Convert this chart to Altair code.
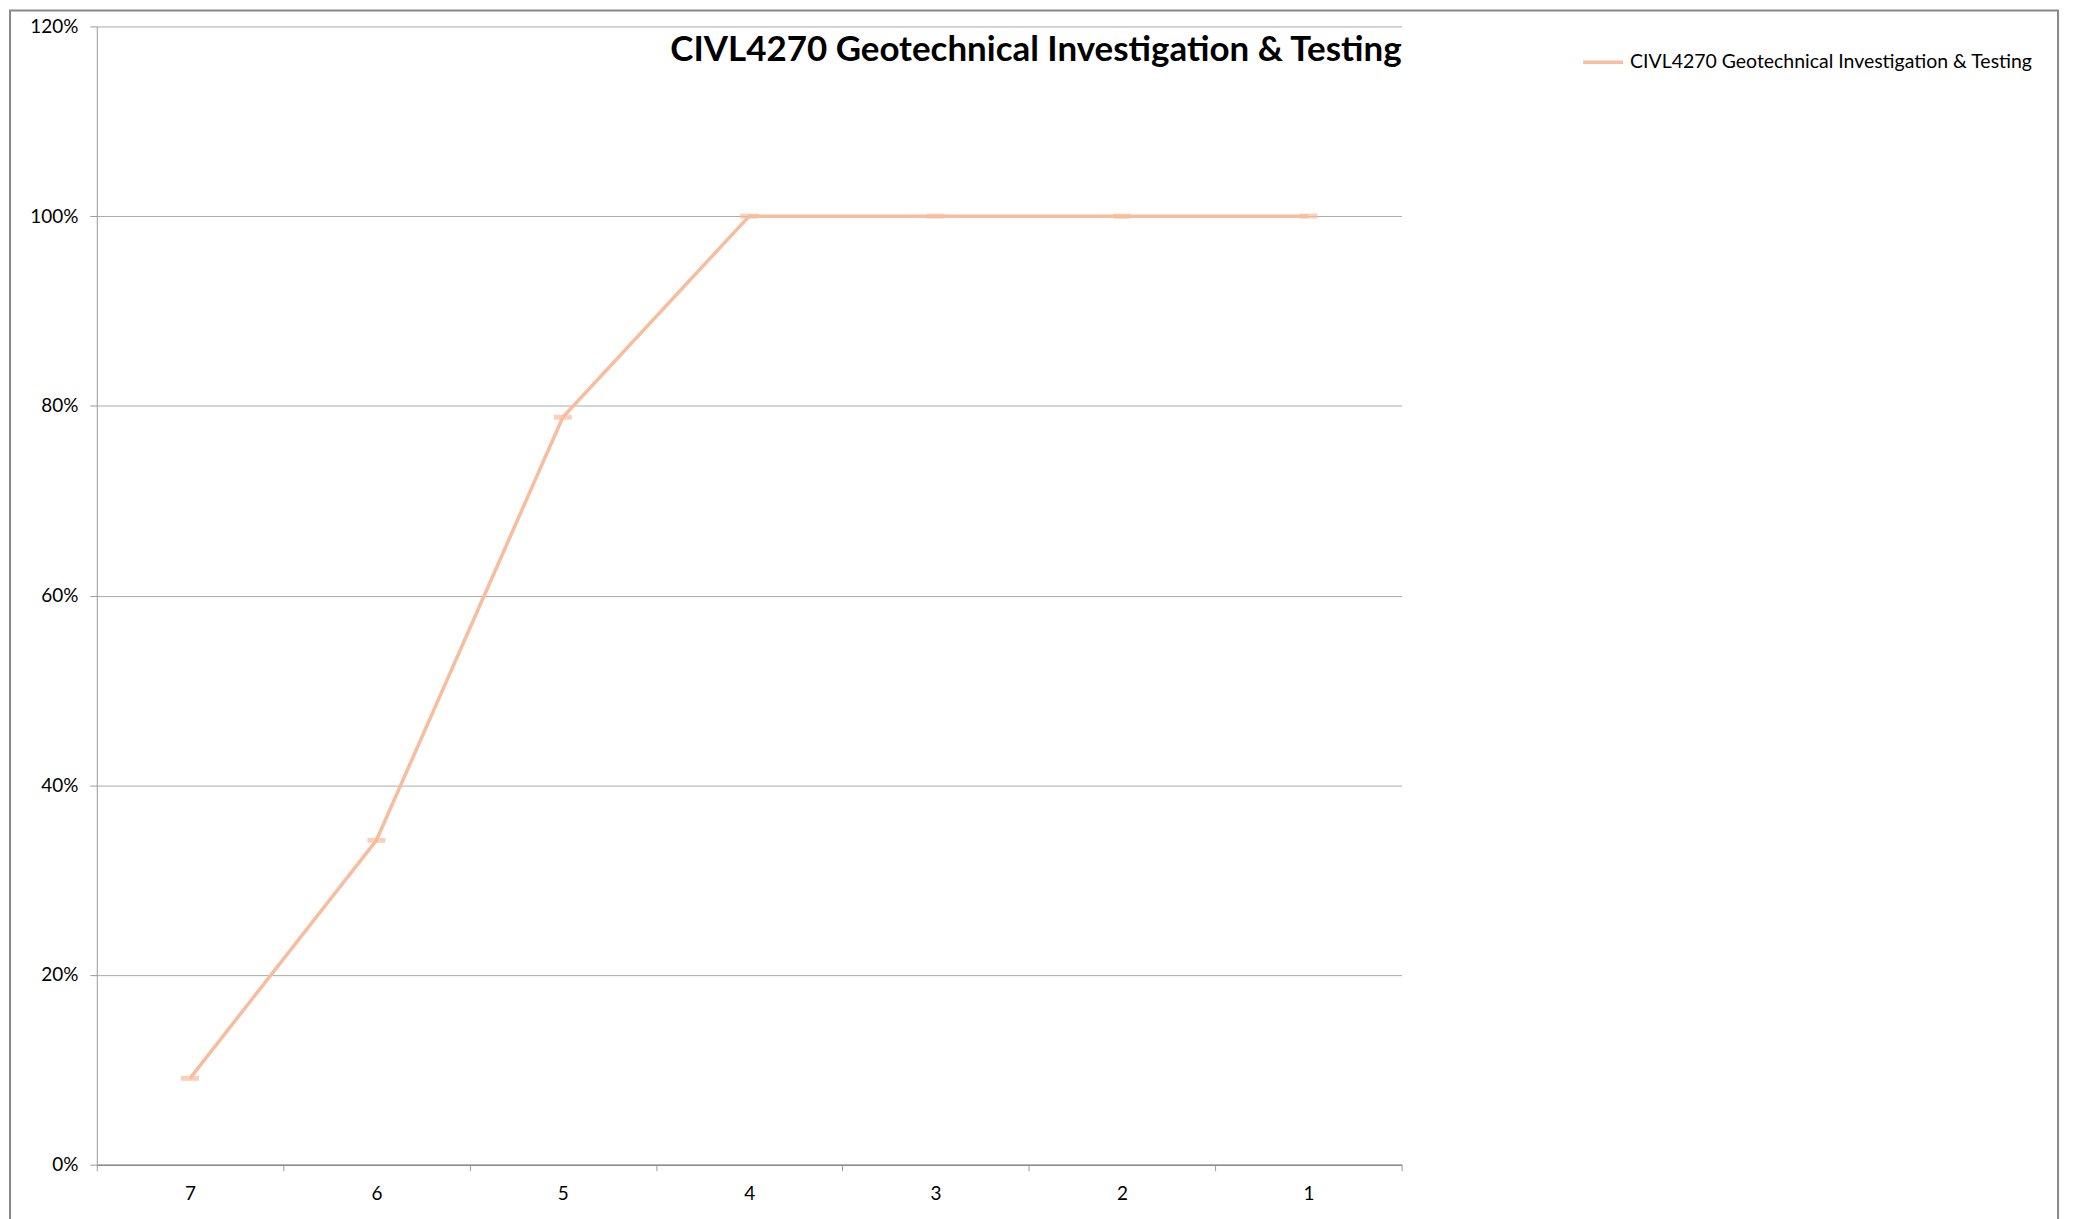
import altair as alt
import pandas as pd

categories = ["7", "6", "5", "4", "3", "2", "1"]
values = [0.091, 0.342, 0.788, 1.0, 1.0, 1.0, 1.0]
series_name = "CIVL4270 Geotechnical Investigation & Testing"
y_ticks = [0, 0.2, 0.4, 0.6, 0.8, 1.0, 1.2]

LINE_COLOR = "#F7BD9E"
FONT = "Lato"

df = pd.DataFrame({"cat": categories, "value": values, "series": [series_name] * len(values)})

x_enc = alt.X("cat:N", sort=categories, title=None,
              scale=alt.Scale(paddingInner=0, paddingOuter=0),
              axis=alt.Axis(tickBand="extent", labelAngle=0, labelFontSize=19, labelFont=FONT,
                            labelColor="#000000", labelPadding=14, tickSize=6, tickColor="#9A9A9A",
                            domainColor="#8C8C8C", domainWidth=1.5, grid=False))
y_enc = alt.Y("value:Q", title=None,
              scale=alt.Scale(domain=[0, 1.2], nice=False, zero=True),
              axis=alt.Axis(values=y_ticks, format=".0%", labelFontSize=19, labelFont=FONT,
                            labelColor="#000000", labelPadding=12, tickSize=7, tickColor="#9A9A9A",
                            domainColor="#9A9A9A", gridColor="#ABABAB", gridWidth=1))

line = alt.Chart(df).mark_line(strokeWidth=3.5, color=LINE_COLOR).encode(
    x=x_enc, y=y_enc,
    color=alt.Color("series:N", scale=alt.Scale(range=[LINE_COLOR]),
                    legend=alt.Legend(title=None, orient="none", legendX=1488, legendY=14,
                                      symbolType="stroke", symbolSize=1600, symbolStrokeWidth=3.5,
                                      labelFont=FONT, labelFontSize=19.5, labelColor="#000000",
                                      labelOffset=5, labelLimit=0, padding=0)),
)

ticks = alt.Chart(df).mark_tick(color=LINE_COLOR, size=18, thickness=5).encode(
    x=x_enc, y=y_enc
)

frame = alt.Chart(pd.DataFrame({"a": [0]})).mark_rect(
    filled=False, stroke="#888888", strokeWidth=2
).encode(x=alt.value(-87), x2=alt.value(1966), y=alt.value(-16), y2=alt.value(1215))

chart = alt.layer(frame, line, ticks).properties(
    width=1308, height=1141,
    background="white",
    title=alt.TitleParams(series_name, anchor="end", frame="group", font=FONT, fontSize=35,
                          fontWeight="bold", color="#000000", dy=63),
    padding={"left": 89, "top": 17, "right": 670, "bottom": 60},
    autosize=alt.AutoSizeParams(type="none"),
).configure_view(stroke=None)

chart.save("out.html", embed_options={"renderer": "svg", "actions": False})
